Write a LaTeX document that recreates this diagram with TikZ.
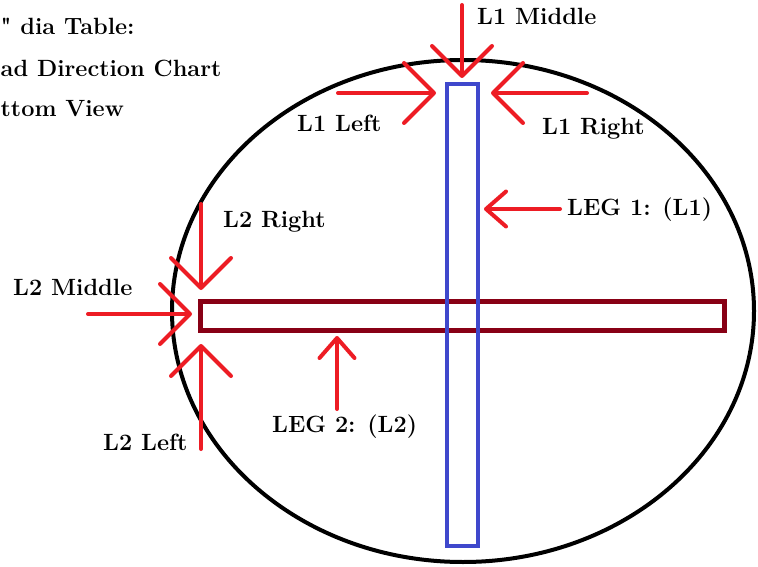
\documentclass[tikz,border=0pt]{standalone}
\usepackage{xcolor}
\usepackage{tikz}
\usetikzlibrary{arrows.meta, positioning}

\definecolor{paintred}{HTML}{ED1C24}
\definecolor{paintblue}{HTML}{3F48CC}
\definecolor{paintmaroon}{HTML}{880015}

\begin{document}
\begin{tikzpicture}[
  x=1pt, y=-1pt,
  lbl/.style={font=\fontsize{23.5}{28}\selectfont\bfseries, inner sep=0pt, anchor=base west},
  legone/.style={draw=paintblue, line width=4pt, inner sep=0pt, minimum width=31pt, minimum height=462pt},
  legtwo/.style={draw=paintmaroon, line width=5pt, inner sep=0pt, minimum width=524pt, minimum height=29pt},
  arr/.style={-{Straight Barb[length=30pt, width=60pt, round]}, paintred, line width=4pt, line cap=round},
  arrsmall/.style={-{Straight Barb[length=20pt, width=35pt, round]}, paintred, line width=4pt, line cap=round}
]
  \useasboundingbox (0,0) rectangle (758,567);

  % table top
  \draw[line width=4pt] (463,311) ellipse [x radius=291pt, y radius=251pt];

  % the two legs
  \node[legtwo] (leg2) at (462,315.5) {};
  \node[legone] (leg1) at (462.5,315) {};

  % title
  \node[lbl] (title1) at (0.5,35) {\textquotedbl\ dia Table:};
  \node[lbl] (title2) at (0.5,77) {ad Direction Chart};
  \node[lbl] (title3) at (0.5,117) {ttom View};

  % labels
  \node[lbl] (l1mid)   at (477,25)  {L1 Middle};
  \node[lbl] (l1left)  at (297,132) {L1 Left};
  \node[lbl] (l1right) at (542,135) {L1 Right};
  \node[lbl] (leg1lbl) at (567,215) {LEG 1: (L1)};
  \node[lbl] (l2right) at (223,227) {L2 Right};
  \node[lbl] (l2mid)   at (13,295)  {L2 Middle};
  \node[lbl] (l2left)  at (103,450) {L2 Left};
  \node[lbl] (leg2lbl) at (272,432) {LEG 2: (L2)};

  % arrow ends
  \coordinate (l1mid-from)    at (462,5);
  \coordinate (l1mid-to)      at (462,78);
  \coordinate (l1left-from)   at (338,93);
  \coordinate (l1left-to)     at (436,93);
  \coordinate (l1right-from)  at (587,93);
  \coordinate (l1right-to)    at (491,93);
  \coordinate (leg1lbl-from)  at (560,209);
  \coordinate (leg1lbl-to)    at (484,209);
  \coordinate (l2right-from)  at (201,204);
  \coordinate (l2right-to)    at (201,290);
  \coordinate (l2mid-from)    at (88,314);
  \coordinate (l2mid-to)      at (192,314);
  \coordinate (l2left-from)   at (201,449);
  \coordinate (l2left-to)     at (201,344);
  \coordinate (leg2lbl-from)  at (337,409);
  \coordinate (leg2lbl-to)    at (337,336);

  % load arrows
  \draw[arr] (l1mid-from)   -- (l1mid-to);
  \draw[arr] (l1left-from)  -- (l1left-to);
  \draw[arr] (l1right-from) -- (l1right-to);
  \draw[arrsmall] (leg1lbl-from) -- (leg1lbl-to);
  \draw[arr] (l2right-from) -- (l2right-to);
  \draw[arr] (l2mid-from)   -- (l2mid-to);
  \draw[arr] (l2left-from)  -- (l2left-to);
  \draw[arrsmall] (leg2lbl-from) -- (leg2lbl-to);
\end{tikzpicture}
\end{document}
